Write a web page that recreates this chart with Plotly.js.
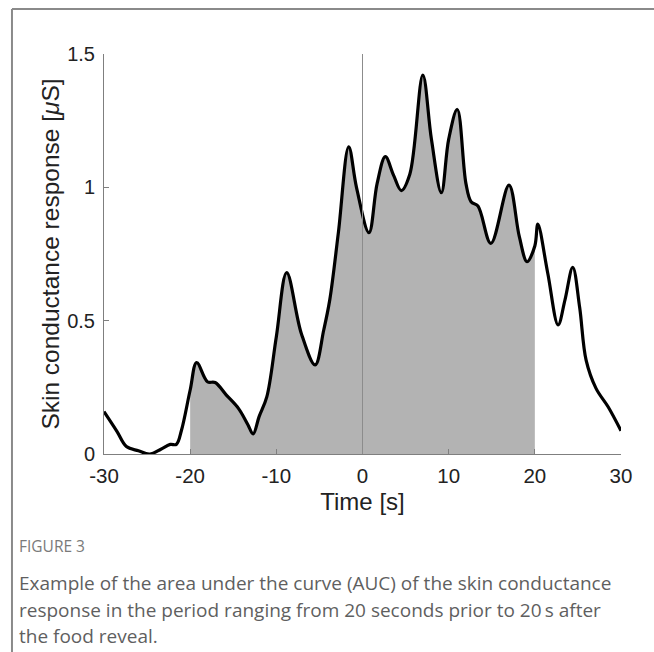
<!DOCTYPE html>
<html>
<head>
<meta charset="utf-8">
<script src="https://cdn.plot.ly/plotly-3.0.1.min.js"></script>
<style>html,body{margin:0;padding:0;background:#fff;}#chart{width:654px;height:652px;}</style>
</head>
<body>
<div id="chart"></div>
<script>
var timeS = [-30, -28.5, -27.4, -26, -24.7, -23.4, -22.3, -21.6, -21, -20, -19.25, -18.0, -17.1, -15.8, -14.4, -13.3, -12.7, -12, -11.1, -10.0, -8.8, -7.1, -5.5, -4.5, -3.8, -2.8, -1.6, -0.7, 0.75, 1.7, 2.65, 3.6, 4.5, 5.5, 7.0, 8.0, 9.15, 10.0, 11.0, 12.0, 12.6, 13.4, 14.9, 17.0, 18.2, 19.1, 20, 20.35, 21.5, 22.7, 23.5, 24.4, 25.2, 25.95, 27.1, 28.5, 30];
var scr = [0.159, 0.085, 0.028, 0.012, 0.0, 0.018, 0.036, 0.036, 0.09, 0.24, 0.343, 0.271, 0.268, 0.221, 0.171, 0.11, 0.075, 0.14, 0.215, 0.44, 0.68, 0.452, 0.334, 0.465, 0.578, 0.83, 1.152, 1.0, 0.83, 1.015, 1.115, 1.046, 0.988, 1.05, 1.421, 1.18, 0.98, 1.18, 1.292, 1.015, 0.946, 0.93, 0.79, 1.008, 0.815, 0.721, 0.78, 0.862, 0.678, 0.484, 0.578, 0.70, 0.55, 0.352, 0.246, 0.177, 0.087];
var aucStart = -20, aucEnd = 20;
var xTicks = [-30, -20, -10, 0, 10, 20, 30];
var xTickText = ["-30", "-20", "-10", "0", "10", "20", "30"];
var yTicks = [0, 0.5, 1, 1.5];
var yTickText = ["0", "0.5", "1", "1.5"];
var captionLabel = "FIGURE 3";
var captionLines = [
  "Example of the area under the curve (AUC) of the skin conductance",
  "response in the period ranging from 20 seconds prior to 20\u2009s after",
  "the food reveal."
];

var fx = [], fy = [];
for (var i = 0; i < timeS.length; i++) {
  if (timeS[i] >= aucStart && timeS[i] <= aucEnd) { fx.push(timeS[i]); fy.push(scr[i]); }
}

var traces = [
  {x: fx, y: fy, type: 'scatter', mode: 'lines', fill: 'tozeroy',
   fillcolor: '#b3b3b3', line: {width: 0, shape: 'spline', color: 'rgba(0,0,0,0)'}, hoverinfo: 'skip'},
  {x: timeS, y: scr, type: 'scatter', mode: 'lines',
   line: {color: '#000', width: 3.2, shape: 'spline'}}
];

var font = "'Liberation Sans', Arial, sans-serif";
var axColor = '#7f7f7f';
var annotations = [{
  text: captionLabel, xref: 'paper', yref: 'paper', x: -0.1683, y: -0.23,
  xanchor: 'left', yanchor: 'middle', showarrow: false,
  font: {family: "'Open Sans', sans-serif", size: 15.5, color: '#7a7a7a'}
}];
var lineY = [-0.3213, -0.389, -0.455];
for (var k = 0; k < captionLines.length; k++) {
  annotations.push({
    text: captionLines[k], xref: 'paper', yref: 'paper', x: -0.1683, y: lineY[k],
    xanchor: 'left', yanchor: 'middle', showarrow: false,
    font: {family: "'Open Sans', sans-serif", size: 19, color: '#5f5f5f'}
  });
}

var layout = {
  width: 654, height: 652,
  margin: {l: 104, r: 33, t: 54, b: 198},
  paper_bgcolor: '#fff', plot_bgcolor: '#fff',
  showlegend: false,
  font: {family: font, color: '#222'},
  xaxis: {
    range: [-30, 30], tickvals: xTicks, ticktext: xTickText,
    ticks: 'inside', ticklen: 5, tickcolor: axColor, showgrid: false, zeroline: false,
    showline: true, linecolor: axColor, linewidth: 1,
    ticklabelstandoff: 3,
    tickfont: {family: font, size: 20.5, color: '#222'},
    title: {text: 'Time [s]', font: {family: font, size: 24, color: '#222'}, standoff: 7}
  },
  yaxis: {
    range: [0, 1.5], tickvals: yTicks, ticktext: yTickText,
    ticks: 'inside', ticklen: 5, tickcolor: axColor, showgrid: false, zeroline: false,
    showline: true, linecolor: axColor, linewidth: 1,
    ticklabelstandoff: 4,
    tickfont: {family: font, size: 20, color: '#222'},
    title: {text: 'Skin conductance response [<i>\u03bc</i>S]', font: {family: font, size: 24.5, color: '#222'}, standoff: 0}
  },
  shapes: [
    {type: 'line', xref: 'x', yref: 'y', x0: 0, x1: 0, y0: 0, y1: 1.5, line: {color: '#8c8c8c', width: 1}, layer: 'above'},
    {type: 'line', xref: 'paper', yref: 'paper', x0: -0.178, x1: 1.07, y0: 1.1125, y1: 1.1125, line: {color: '#8a8a8a', width: 2}},
    {type: 'line', xref: 'paper', yref: 'paper', x0: -0.178, x1: -0.178, y0: 1.1125, y1: -0.5, line: {color: '#8a8a8a', width: 2}}
  ],
  annotations: annotations
};

Plotly.newPlot('chart', traces, layout, {displayModeBar: false, staticPlot: true});
</script>
</body>
</html>
